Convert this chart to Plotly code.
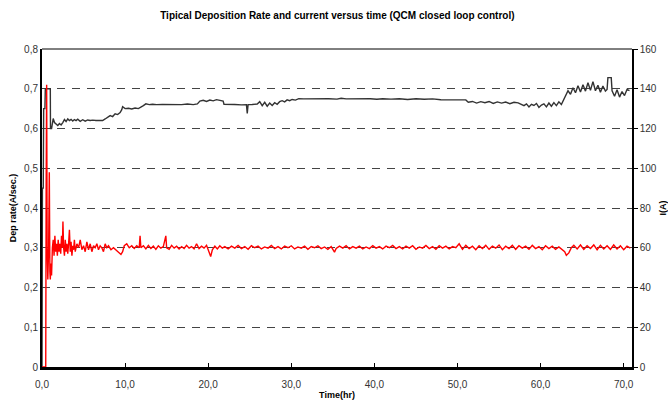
import plotly.graph_objects as go

# ---------------- data ----------------
rate_time = [
    0.0, 0.2, 0.3, 0.45, 0.5, 0.56, 0.62, 0.7, 0.8, 0.88, 0.95, 1.0, 1.08, 1.15, 1.25,
    1.35, 1.45, 1.55, 1.65, 1.75, 1.85, 1.95, 2.05, 2.15, 2.25, 2.35, 2.45, 2.52, 2.6,
    2.7, 2.8, 2.9, 3.0, 3.1, 3.2, 3.3, 3.4, 3.5, 3.6, 3.7, 3.8, 3.9, 4.0, 4.2, 4.4,
    4.6, 4.8, 5.0, 5.2, 5.4, 5.6, 5.8, 6.0, 6.2, 6.4, 6.6, 6.8, 7.0, 7.2, 7.4, 7.6,
    7.8, 8.0, 8.3, 8.6, 8.9, 9.2, 9.5, 9.7, 9.9, 10.2, 10.5, 10.8, 11.1, 11.4, 11.7,
    11.8, 11.9, 12.2, 12.5, 12.8, 13.1, 13.4, 13.7, 14.0, 14.3, 14.6, 14.9, 15.0,
    15.3, 15.6, 15.9, 16.2, 16.5, 16.8, 17.1, 17.4, 17.7, 18.0, 18.3, 18.6, 18.9,
    19.2, 19.5, 19.8, 20.1, 20.3, 20.5, 20.8, 21.1, 21.4, 21.7, 22.0,
    22.4, 22.8, 23.2, 23.6, 24.0, 24.4, 24.8, 25.2, 25.6, 26.0, 26.4, 26.8, 27.2,
    27.6, 28.0, 28.4, 28.8, 29.2, 29.6, 30.0, 30.4, 30.8, 31.2, 31.6, 32.0, 32.4,
    32.8, 33.2, 33.6, 34.0, 34.4, 34.8, 35.2, 35.4, 35.8, 36.2, 36.6, 37.0, 37.4,
    37.8, 38.2, 38.6, 39.0, 39.4, 39.8, 40.2, 40.6, 41.0, 41.4, 41.8, 42.2, 42.6,
    43.0, 43.4, 43.8, 44.2, 44.6, 45.0, 45.4, 45.8, 46.2, 46.6, 47.0, 47.4, 47.8,
    48.2, 48.6, 49.0, 49.4, 49.8, 50.2, 50.6, 51.0, 51.4, 51.8, 52.2, 52.6, 53.0,
    53.4, 53.8, 54.2, 54.6, 55.0, 55.4, 55.8, 56.2, 56.6, 57.0, 57.4, 57.8, 58.2,
    58.6, 59.0, 59.4, 59.8, 60.2, 60.6, 61.0, 61.4, 61.8, 62.2, 62.6, 62.9, 63.1,
    63.4, 63.7, 64.0, 64.4, 64.8, 65.2, 65.6, 66.0, 66.4, 66.8, 67.2, 67.6, 68.0,
    68.4, 68.8, 69.2, 69.6, 70.0, 70.4, 70.8,
]
dep_rate = [
    0.0, 0.0, 0.0, 0.0, 0.45, 0.71, 0.30, 0.22, 0.30, 0.49, 0.24, 0.22, 0.26, 0.23, 0.30,
    0.32, 0.28, 0.33, 0.29, 0.31, 0.28, 0.32, 0.29, 0.31, 0.285, 0.33, 0.30, 0.366, 0.30,
    0.28, 0.32, 0.29, 0.31, 0.285, 0.31, 0.345, 0.29, 0.315, 0.28, 0.305, 0.295, 0.32, 0.29, 0.31, 0.30,
    0.32, 0.295, 0.305, 0.29, 0.315, 0.295, 0.31, 0.29, 0.305, 0.30, 0.31, 0.295, 0.305, 0.30, 0.29, 0.31,
    0.30, 0.305, 0.295, 0.30, 0.295, 0.29, 0.283, 0.29, 0.305, 0.31, 0.30, 0.305, 0.298, 0.305, 0.30,
    0.33, 0.30, 0.305, 0.297, 0.306, 0.298, 0.304, 0.296, 0.305, 0.299, 0.303, 0.33, 0.30,
    0.296, 0.306, 0.299, 0.304, 0.297, 0.303, 0.298, 0.306, 0.299, 0.303, 0.297, 0.31, 0.298,
    0.304, 0.299, 0.306, 0.29, 0.278, 0.295, 0.304, 0.297, 0.305, 0.299, 0.303,
    0.297, 0.304, 0.299, 0.306, 0.298, 0.303, 0.296, 0.305, 0.300, 0.304, 0.297, 0.302, 0.299,
    0.306, 0.298, 0.303, 0.297, 0.304, 0.300, 0.305, 0.297, 0.302, 0.299, 0.304, 0.296, 0.303,
    0.300, 0.305, 0.298, 0.302, 0.296, 0.303, 0.289, 0.298, 0.304, 0.299, 0.305, 0.297, 0.303,
    0.299, 0.304, 0.297, 0.302, 0.298, 0.305, 0.299, 0.303, 0.297, 0.304, 0.300, 0.306, 0.298,
    0.303, 0.297, 0.304, 0.299, 0.305, 0.296, 0.302, 0.299, 0.306, 0.298, 0.303, 0.296, 0.305,
    0.299, 0.304, 0.297, 0.303, 0.300, 0.310, 0.296, 0.306, 0.298, 0.304, 0.295, 0.305, 0.298,
    0.306, 0.296, 0.304, 0.299, 0.307, 0.295, 0.304, 0.298, 0.306, 0.296, 0.305, 0.299, 0.304,
    0.296, 0.306, 0.298, 0.303, 0.295, 0.305, 0.298, 0.304, 0.296, 0.302, 0.294, 0.290, 0.281,
    0.287, 0.300, 0.306, 0.297, 0.307, 0.296, 0.305, 0.298, 0.307, 0.295, 0.306, 0.297, 0.305,
    0.296, 0.307, 0.297, 0.305, 0.295, 0.304, 0.299,
]

current_time = [
    0.0, 0.05, 0.15, 0.2, 0.35, 0.4, 1.0, 1.02, 1.15, 1.25, 1.35, 1.5, 1.7, 1.9, 2.1,
    2.3, 2.5, 2.7, 2.9, 3.1, 3.3, 3.5, 3.7, 3.9, 4.1, 4.3, 4.6, 4.9, 5.2, 5.5, 5.8,
    6.1, 6.5, 6.9, 7.3, 7.6, 7.9, 8.2, 8.5, 8.8, 9.1, 9.4, 9.6, 9.7, 10.0, 10.4, 10.8,
    11.2, 11.6, 11.9, 12.2, 12.5, 12.9, 13.3, 13.8, 14.5, 15.2, 16.0, 16.8, 17.5, 18.2,
    18.7, 19.0, 19.4, 19.8, 20.2, 20.6, 21.0, 21.4, 21.8, 21.9, 22.5, 23.2, 24.0, 24.6,
    24.7, 24.8, 25.3, 25.9, 26.2, 26.5, 26.8, 27.1, 27.4, 27.7, 28.0, 28.3, 28.6, 28.9,
    29.2, 29.5, 29.8, 30.1, 30.5, 30.9, 31.5, 32.5, 33.5, 34.5, 35.5, 36.0, 36.6, 37.5,
    38.5, 39.5, 40.3, 41.0, 42.0, 43.0, 44.0, 45.0, 46.0, 47.0, 48.0, 49.0, 50.0, 51.0,
    51.3, 51.8, 52.3, 52.8, 53.3, 53.8, 54.3, 54.8, 55.3, 55.8, 56.3, 56.8, 57.3, 57.7,
    58.0, 58.3, 58.6, 58.9, 59.2, 59.5, 59.8, 60.1, 60.4, 60.7, 61.0, 61.3, 61.6, 61.9,
    62.2, 62.5, 62.8, 63.0, 63.3, 63.6, 63.9, 64.2, 64.5, 64.8, 65.1, 65.4, 65.7, 66.0,
    66.3, 66.6, 66.9, 67.2, 67.5, 67.8, 68.0, 68.1, 68.5, 68.6, 68.9, 69.2, 69.5, 69.8,
    70.1, 70.4, 70.7,
]
current = [
    0, 90, 90, 130, 130, 140, 140, 120, 120, 124, 125, 123, 122, 121.5, 122.5,
    121.8, 123, 124.5, 123.5, 124.8, 124, 124.6, 123.8, 124.5, 124, 124.7, 123.6, 124.4, 123.7, 124.3, 124.0,
    124.2, 124.0, 124.1, 124.0, 124.8, 125.6, 126.5, 126, 127.4, 127, 128, 129.5, 131, 130, 130.2, 129.8,
    130.3, 130, 130.6, 131.5, 132.4, 132, 132.2, 132, 132.1, 132, 132.2, 132, 132.3, 132,
    132.4, 133.8, 134.2, 133.6, 134.3, 133.9, 134.5, 134, 133.8, 132.2, 132, 132.1, 131.9, 132,
    127.6, 132, 132.1, 132.3, 133.5, 131.5, 133.2, 131.2, 132.8, 131.6, 133.0, 132.2, 133.5, 134,
    133.4, 134.4, 134, 134.6, 134.3, 135, 134.9, 135, 134.9, 135, 134.8, 135.2, 134.9, 135,
    134.9, 135, 134.7, 135, 134.8, 135, 134.6, 135, 134.7, 134.9, 134.5, 134.4, 134.3, 134.4,
    133.2, 133.6, 132.8, 133.5, 133, 133.6, 132.6, 133.4, 132.8, 133.3, 132.5, 133.2, 132.9, 132,
    131.5, 132.4, 130.8, 132.2, 131.6, 132.6, 130.6, 131.8, 132.4, 130.9, 132.8, 131.2, 133, 131.5,
    133.4, 132.1, 134.5, 136.5, 139, 137.2, 140.5, 138, 141.5, 138.4, 142, 138.8, 143, 139.2,
    143.6, 139, 141.8, 138.2, 141.4, 138.8, 139.6, 145.6, 145.6, 139, 136.2, 139.5, 135.8, 138.6,
    136.6, 139.6, 139,
]

rate_ticks = [0, 0.1, 0.2, 0.3, 0.4, 0.5, 0.6, 0.7, 0.8]
rate_tick_text = ["0", "0,1", "0,2", "0,3", "0,4", "0,5", "0,6", "0,7", "0,8"]
current_ticks = [0, 20, 40, 60, 80, 100, 120, 140, 160]
time_ticks = [0, 10, 20, 30, 40, 50, 60, 70]
time_tick_text = ["0,0", "10,0", "20,0", "30,0", "40,0", "50,0", "60,0", "70,0"]

# ---------------- figure ----------------
FONT = "Liberation Sans, Arial, sans-serif"
fig = go.Figure()

fig.add_trace(go.Scatter(
    x=current_time, y=current, mode="lines", yaxis="y",
    line=dict(color="#333333", width=1.4), showlegend=False, hoverinfo="skip",
))
fig.add_trace(go.Scatter(
    x=rate_time, y=dep_rate, mode="lines", yaxis="y2",
    line=dict(color="#ff0000", width=1.4), showlegend=False, hoverinfo="skip",
))

fig.update_layout(
    width=668, height=401,
    margin=dict(l=42, r=36, t=49, b=34),
    paper_bgcolor="white", plot_bgcolor="white",
    font=dict(family=FONT, size=10, color="#333333"),
    title=dict(
        text="<b>Tipical Deposition Rate and current versus time (QCM closed loop control)</b>",
        x=0.505, xanchor="center", y=0.962, yanchor="middle",
        font=dict(family=FONT, size=10, color="#000000"),
    ),
    xaxis=dict(
        range=[0, 71], tickvals=time_ticks, ticktext=time_tick_text,
        showgrid=False, zeroline=False, automargin=False,
        showline=True, linecolor="#000000", linewidth=3,
        ticks="inside", ticklen=4, tickcolor="#000000", tickwidth=1,
        ticklabelstandoff=6,
        tickfont=dict(size=10, color="#333333"),
        title=dict(text="<b>Time(hr)</b>", font=dict(size=9, color="#000000"), standoff=3),
    ),
    yaxis=dict(
        side="right", range=[0, 160], tickvals=current_ticks,
        showgrid=False, zeroline=False, automargin=False,
        showline=True, linecolor="#000000", linewidth=1.5,
        ticks="outside", ticklen=4, tickcolor="#000000", tickwidth=1,
        tickfont=dict(size=10, color="#333333"),
        title=dict(text="<b>I(A)</b>", font=dict(size=9, color="#000000"), standoff=6),
    ),
    yaxis2=dict(
        side="left", overlaying="y", range=[0, 0.8],
        tickvals=rate_ticks, ticktext=rate_tick_text,
        showgrid=True, gridcolor="#444444", gridwidth=1.2, griddash="8px,7px",
        zeroline=False, automargin=False,
        showline=True, linecolor="#000000", linewidth=2,
        ticks="", tickfont=dict(size=10, color="#333333"),
        title=dict(text="<b>Dep rate(A/sec.)</b>", font=dict(size=9, color="#000000"), standoff=6),
    ),
    shapes=[dict(type="line", xref="paper", yref="paper", x0=0, x1=1, y0=1, y1=1,
                 line=dict(color="#000000", width=1), layer="above")],
)

fig.write_html("out.html")
